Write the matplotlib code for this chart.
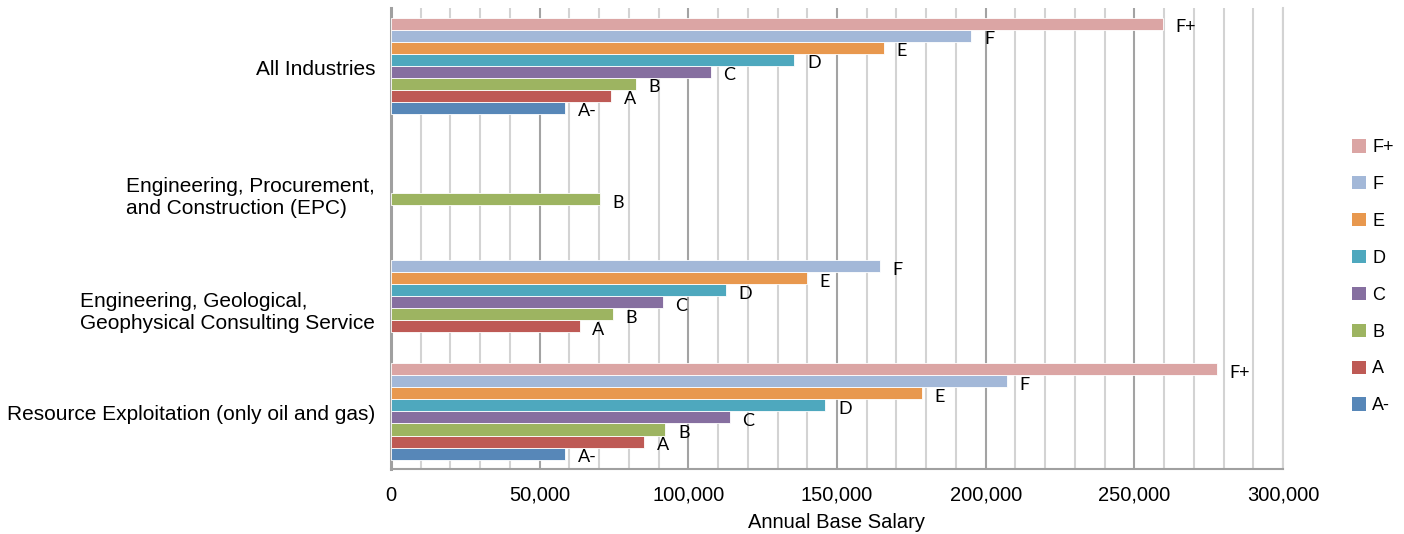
import matplotlib
matplotlib.use("Agg")
import matplotlib.pyplot as plt
from matplotlib.patches import Patch
from matplotlib.ticker import FuncFormatter, MultipleLocator
from matplotlib.transforms import ScaledTranslation
import numpy as np

categories = [
    "All Industries",
    "Engineering, Procurement,\nand Construction (EPC)",
    "Engineering, Geological,\nGeophysical Consulting Service",
    "Resource Exploitation (only oil and gas)",
]
series = ["A-", "A", "B", "C", "D", "E", "F", "F+"]
values = {
    "A-": [58600, None, None, 58600],
    "A":  [74100, None, 63500, 85200],
    "B":  [82400, 70400, 74700, 92300],
    "C":  [107600, None, 91500, 113900],
    "D":  [135700, None, 112500, 146100],
    "E":  [165800, None, 139800, 178500],
    "F":  [195200, None, 164300, 207100],
    "F+": [259600, None, None, 277800],
}
colors = {
    "A-": "#5787B8", "A": "#BE5A55", "B": "#9DB461", "C": "#866FA0",
    "D": "#4EA8BE", "E": "#E8984E", "F": "#A3B8D8", "F+": "#DBA5A4",
}
xticks = [0, 50000, 100000, 150000, 200000, 250000, 300000]

fig = plt.figure(figsize=(14.04, 5.34), dpi=100)
ax = fig.add_axes([391/1404, 1-469/534, (1283-391)/1404, (469-8.25)/534])

nser = len(series)
h = 0.837 / nser
for k, s in enumerate(series):
    for i, v in enumerate(values[s]):
        if v is None:
            continue
        y = i + (3.5 - k) * h
        ax.barh(y, v, height=h, color=colors[s], edgecolor="white",
                linewidth=0.6, zorder=3)
        ax.annotate(s, (v, y), xytext=(9, -2.5), textcoords="offset points",
                    va="center", ha="left", fontsize=13, family=["Lato", "DejaVu Sans"],
                    color="black", zorder=4)

ax.set_xlim(0, 300000)
ax.set_ylim(len(categories) - 0.5, -0.5)
ax.set_xticks(xticks)
ax.xaxis.set_minor_locator(MultipleLocator(10000))
ax.xaxis.set_major_formatter(FuncFormatter(lambda x, p: f"{int(x):,}"))
ax.grid(axis="x", which="minor", color="#d3d3d3", linewidth=1.5, zorder=1)
ax.grid(axis="x", which="major", color="#a3a3a3", linewidth=1.5, zorder=1)
ax.tick_params(axis="x", which="both", length=0, pad=12, labelsize=14.5)
for lab in ax.get_xticklabels():
    lab.set_family(["Liberation Sans", "DejaVu Sans"])

ax.set_yticks(range(len(categories)))
ax.set_yticklabels(categories, fontsize=15, family=["Liberation Sans", "DejaVu Sans"],
                   multialignment="left")
ax.tick_params(axis="y", length=0, pad=11.5)
offsets = [-2, -13, -13, -1]
for lab, dy in zip(ax.get_yticklabels(), offsets):
    lab.set_transform(lab.get_transform() + ScaledTranslation(0, dy/100, fig.dpi_scale_trans))

ax.spines["top"].set_visible(False)
ax.spines["right"].set_color("#d3d3d3")
ax.spines["right"].set_linewidth(1.5)
ax.spines["left"].set_color("#a0a0a0")
ax.spines["left"].set_linewidth(2.2)
ax.spines["bottom"].set_color("#a0a0a0")
ax.spines["bottom"].set_linewidth(1.5)

ax.set_xlabel("Annual Base Salary", fontsize=14.5, family=["Liberation Sans", "DejaVu Sans"],
              labelpad=6)

handles = [Patch(facecolor=colors[s], edgecolor="none", label=s) for s in reversed(series)]
fig.legend(handles=handles, loc="upper left", bbox_to_anchor=(1336/1404, 1-123/534),
           frameon=False, handlelength=0.75, handleheight=0.75, handletextpad=0.35,
           labelspacing=1.1, prop={"family": ["Liberation Sans", "DejaVu Sans"], "size": 13})

fig.savefig("out.png", dpi=100)
